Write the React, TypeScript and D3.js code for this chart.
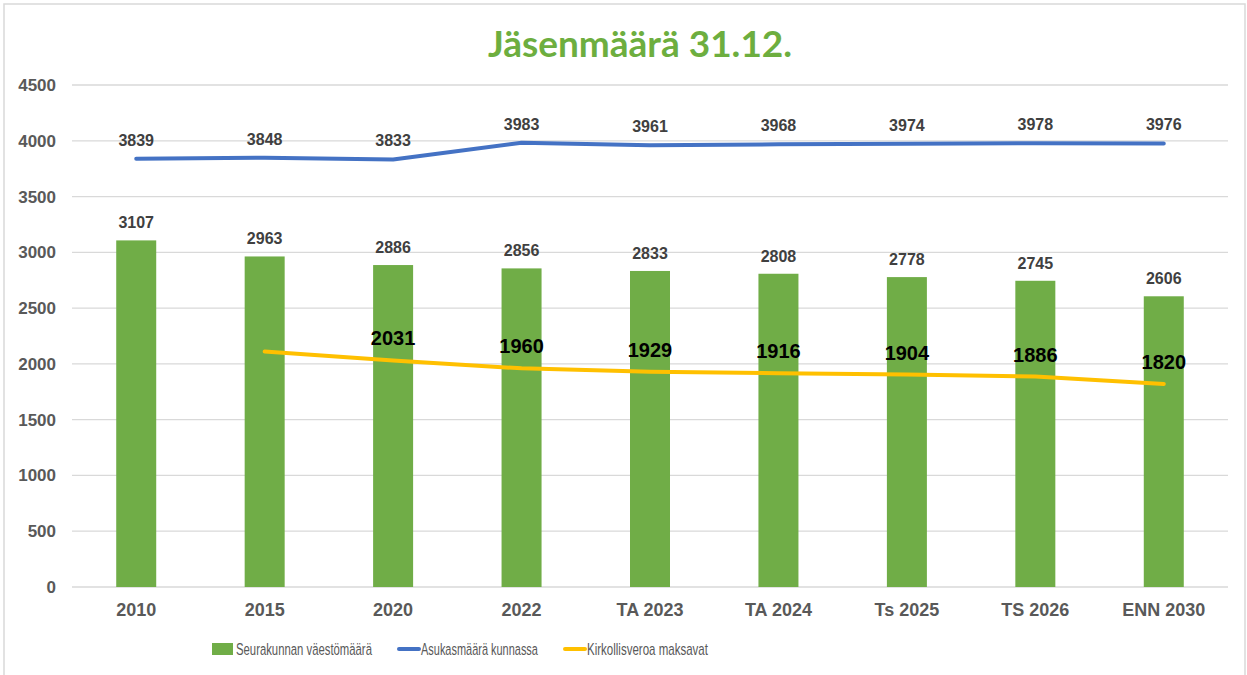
import React, { useRef, useEffect } from "react";
import * as d3 from "d3";

const categories = ["2010", "2015", "2020", "2022", "TA 2023", "TA 2024", "Ts 2025", "TS 2026", "ENN 2030"];
const parishPop = [3107, 2963, 2886, 2856, 2833, 2808, 2778, 2745, 2606];
const residents = [3839, 3848, 3833, 3983, 3961, 3968, 3974, 3978, 3976];
const taxPayers = [null, 2110, 2031, 1960, 1929, 1916, 1904, 1886, 1820];
const taxLabels = [false, false, true, true, true, true, true, true, true];
const yTicks = [0, 500, 1000, 1500, 2000, 2500, 3000, 3500, 4000, 4500];
const legendItems = ["Seurakunnan väestömäärä", "Asukasmäärä kunnassa", "Kirkollisveroa maksavat"];

const W = 1247;
const H = 675;
const GREEN = "#70AD47";
const BLUE = "#4472C4";
const YELLOW = "#FFC000";
const FONT = "'Liberation Sans', Arial, sans-serif";

const App = () => {
  const svgRef = useRef<SVGSVGElement>(null);

  useEffect(() => {
    const svg = d3.select(svgRef.current);
    svg.selectAll("*").remove();

    const x = d3.scaleBand<string>().domain(categories).range([72, 1228]).padding(0);
    const y = d3.scaleLinear().domain([0, 4500]).range([587, 85]);
    const cx = (c: string) => (x(c) as number) + x.bandwidth() / 2;
    const barW = 40;

    // chart border
    svg.append("rect")
      .attr("x", 4).attr("y", 4).attr("width", 1241).attr("height", 676)
      .attr("fill", "#fff").attr("stroke", "#d9d9d9").attr("stroke-width", 1.5);

    svg.append("text")
      .attr("x", 640).attr("y", 57)
      .attr("text-anchor", "middle")
      .attr("font-family", "Lato, 'Open Sans', sans-serif")
      .attr("font-weight", "bold")
      .attr("font-size", 37)
      .attr("fill", "#6DAE3F")
      .text("Jäsenmäärä 31.12.");

    // grid
    svg.append("g").selectAll("line").data(yTicks).enter().append("line")
      .attr("x1", 72).attr("x2", 1228)
      .attr("y1", (d) => y(d)).attr("y2", (d) => y(d))
      .attr("stroke", "#d9d9d9").attr("stroke-width", 1.3);

    svg.append("g").selectAll("text").data(yTicks).enter().append("text")
      .attr("x", 56).attr("y", (d) => y(d) + 6)
      .attr("text-anchor", "end")
      .attr("font-family", FONT)
      .attr("font-weight", "bold").attr("font-size", 17)
      .attr("fill", "#595959")
      .text((d) => d);

    svg.append("g").selectAll("text").data(categories).enter().append("text")
      .attr("x", (d) => cx(d)).attr("y", 616)
      .attr("text-anchor", "middle")
      .attr("font-family", FONT)
      .attr("font-weight", "bold").attr("font-size", 18)
      .attr("fill", "#595959")
      .text((d) => d);

    // bars
    svg.append("g").selectAll("rect").data(parishPop).enter().append("rect")
      .attr("x", (d, i) => cx(categories[i]) - barW / 2)
      .attr("y", (d) => y(d))
      .attr("width", barW)
      .attr("height", (d) => y(0) - y(d))
      .attr("fill", GREEN);

    svg.append("g").selectAll("text").data(parishPop).enter().append("text")
      .attr("x", (d, i) => cx(categories[i])).attr("y", (d) => y(d) - 12)
      .attr("text-anchor", "middle")
      .attr("font-family", FONT)
      .attr("font-weight", "bold").attr("font-size", 16)
      .attr("fill", "#404040")
      .text((d) => d);

    // residents line
    const lineR = d3.line<number>().x((d, i) => cx(categories[i])).y((d) => y(d));
    svg.append("path").datum(residents)
      .attr("d", lineR)
      .attr("fill", "none").attr("stroke", BLUE).attr("stroke-width", 4)
      .attr("stroke-linecap", "round").attr("stroke-linejoin", "round");

    svg.append("g").selectAll("text").data(residents).enter().append("text")
      .attr("x", (d, i) => cx(categories[i])).attr("y", (d) => y(d) - 13)
      .attr("text-anchor", "middle")
      .attr("font-family", FONT)
      .attr("font-weight", "bold").attr("font-size", 16)
      .attr("fill", "#404040")
      .text((d) => d);

    // tax payers line
    const lineT = d3.line<number | null>()
      .defined((d) => d !== null)
      .x((d, i) => cx(categories[i]))
      .y((d) => y(d as number));
    svg.append("path").datum(taxPayers)
      .attr("d", lineT)
      .attr("fill", "none").attr("stroke", YELLOW).attr("stroke-width", 4)
      .attr("stroke-linecap", "round").attr("stroke-linejoin", "round");

    const tg = svg.append("g")
      .attr("font-family", FONT)
      .attr("font-weight", "bold").attr("font-size", 20)
      .attr("fill", "#000").attr("text-anchor", "middle");
    taxPayers.forEach((d, i) => {
      if (d === null || !taxLabels[i]) return;
      tg.append("text")
        .attr("x", cx(categories[i]))
        .attr("y", y(d) - 15)
        .text(d);
    });

    // legend (text squeezed horizontally to mimic the narrow original font)
    const lg = svg.append("g").attr("font-family", FONT)
      .attr("font-size", 17).attr("fill", "#595959");
    const lx = [212, 397, 563];
    const lw = [136, 117, 121];
    legendItems.forEach((t, i) => {
      if (i === 0) {
        lg.append("rect").attr("x", lx[i]).attr("y", 643).attr("width", 21).attr("height", 12).attr("fill", GREEN);
      } else {
        lg.append("line").attr("x1", lx[i] + 2).attr("x2", lx[i] + 22).attr("y1", 649).attr("y2", 649)
          .attr("stroke", i === 1 ? BLUE : YELLOW).attr("stroke-width", 4).attr("stroke-linecap", "round");
      }
      const txt = lg.append("text").attr("x", 0).attr("y", 0).text(t);
      const len = (txt.node() as SVGTextElement).getComputedTextLength() || lw[i];
      txt.attr("transform", `translate(${lx[i] + 24},655) scale(${lw[i] / len},1)`);
    });
  }, []);

  return (
    <svg
      ref={svgRef}
      width={W}
      height={H}
      style={{ position: "absolute", left: 0, top: 0, display: "block" }}
    />
  );
};

export default App;
